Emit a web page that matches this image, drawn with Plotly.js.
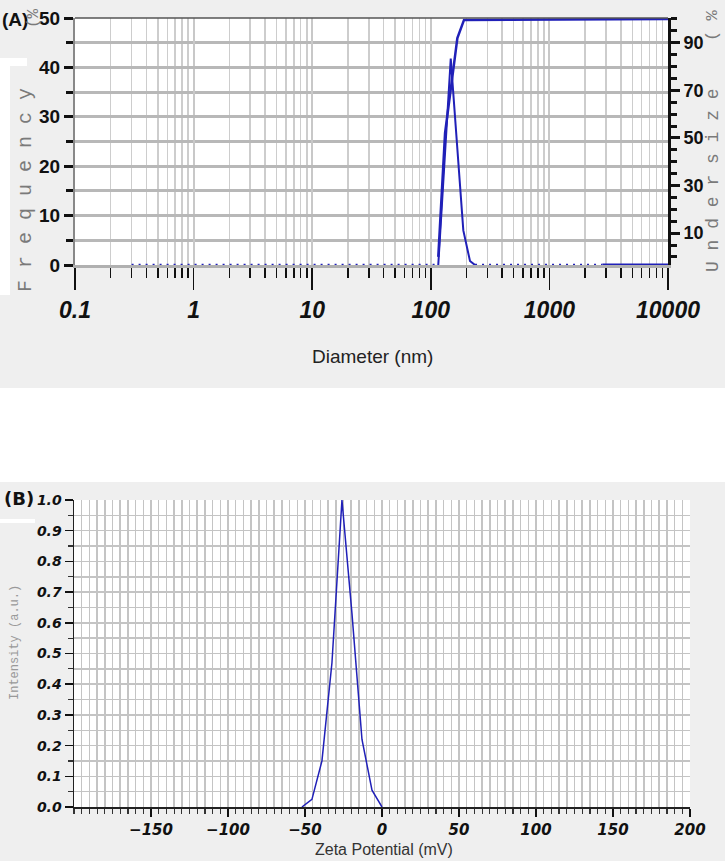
<!DOCTYPE html>
<html>
<head>
<meta charset="utf-8">
<script src="https://cdn.plot.ly/plotly-3.0.1.min.js"></script>
<style>
  html, body { margin: 0; padding: 0; background: #fff; }
  #chart { width: 725px; height: 861px; }
</style>
</head>
<body>
<div id="chart"></div>
<script>
// panel A: particle size distribution
const freqDiam = [115.6, 147.3, 188, 214, 236];
const freqPct = [0, 41.8, 7, 0.8, 0];
const freqZeroLowDiam = [0.3, 115.6];
const freqZeroHighDiam = [236, 2800];
const freqTailDiam = [2800, 10000];
const zeroPair = [0, 0];
const underDiam = [115.6, 131.9, 167.5, 190.6, 10000];
const underPct = [0, 52, 92, 99.6, 100];
const diamTicks = [0.1, 1, 10, 100, 1000, 10000];
const diamTickText = ['0.1', '1', '10', '100', '1000', '10000'];

// panel B: zeta potential
const zeta = [-52, -45.5, -39, -32.5, -26, -19.5, -13, -6.5, 0];
const intensity = [0, 0.025, 0.15, 0.47, 1.0, 0.63, 0.22, 0.055, 0];
const zetaTicks = [-150, -100, -50, 0, 50, 100, 150, 200];

const W = 725, H = 861;
const px = x => x / W;
const py = y => 1 - y / H;

const SANS = '"Liberation Sans", Arial, sans-serif';
const MONO = '"Liberation Mono", "Courier New", monospace';
const WIDE = '"DejaVu Sans", Verdana, sans-serif';
const BLUE = '#2020b8';

// minor log ticks 2..9 in every decade
let logMinor = [];
for (let e = -1; e < 4; e++) {
    for (let k = 2; k <= 9; k++) logMinor.push(k * Math.pow(10, e));
}

const traces = [
    { x: freqZeroLowDiam, y: zeroPair, xaxis: 'x', yaxis: 'y', mode: 'lines',
      line: { color: BLUE, width: 2.5, dash: '2px,5px' } },
    { x: freqDiam, y: freqPct, xaxis: 'x', yaxis: 'y', mode: 'lines',
      line: { color: BLUE, width: 2 } },
    { x: freqZeroHighDiam, y: zeroPair, xaxis: 'x', yaxis: 'y', mode: 'lines',
      line: { color: BLUE, width: 2.5, dash: '2px,5px' } },
    { x: freqTailDiam, y: zeroPair, xaxis: 'x', yaxis: 'y', mode: 'lines',
      line: { color: BLUE, width: 3 } },
    { x: underDiam, y: underPct, xaxis: 'x', yaxis: 'y2', mode: 'lines',
      line: { color: BLUE, width: 2.5 } },
    { x: zeta, y: intensity, xaxis: 'x2', yaxis: 'y3', mode: 'lines',
      line: { color: BLUE, width: 1.5 } }
];

function rect(x0, y0, x1, y1, color) {
    return { type: 'rect', xref: 'paper', yref: 'paper', layer: 'below',
        x0: px(x0), x1: px(x1), y0: py(y1), y1: py(y0),
        fillcolor: color, line: { width: 0 } };
}

function note(text, x, y, font, angle) {
    return { text: text, xref: 'paper', yref: 'paper', x: px(x), y: py(y),
        xanchor: 'center', yanchor: 'middle', showarrow: false,
        textangle: angle || 0, font: font };
}

const layout = {
    width: W,
    height: H,
    margin: { l: 0, r: 0, t: 0, b: 0 },
    paper_bgcolor: '#ffffff',
    plot_bgcolor: 'rgba(0,0,0,0)',
    showlegend: false,
    xaxis: {
        type: 'log', domain: [px(75), px(668)], range: [-1, 4], anchor: 'y',
        tickmode: 'array', tickvals: diamTicks, ticktext: diamTickText,
        ticks: 'outside', ticklen: 22, tickwidth: 1.5, tickcolor: '#111',
        tickfont: { family: SANS, size: 23, weight: 'bold', style: 'italic', color: '#111' },
        showgrid: true, gridcolor: '#c8c8c8', gridwidth: 2,
        minor: { tickvals: logMinor, ticks: 'outside', ticklen: 10, tickwidth: 1.5, tickcolor: '#111',
            showgrid: true, gridcolor: '#cdcdcd', gridwidth: 1.5 },
        showline: true, linecolor: '#b0b0b0', linewidth: 3,
        zeroline: false, fixedrange: true
    },
    yaxis: {
        domain: [py(265), py(18)], range: [0, 50], anchor: 'x',
        tickmode: 'array', tickvals: [0, 10, 20, 30, 40, 50],
        ticks: 'outside', ticklen: 9, tickwidth: 3, tickcolor: '#111',
        tickfont: { family: SANS, size: 19, weight: 'bold', color: '#111' },
        showgrid: true, gridcolor: '#b8b8b8', gridwidth: 3,
        minor: { dtick: 5, ticks: 'outside', ticklen: 7, tickwidth: 3, tickcolor: '#111',
            showgrid: true, gridcolor: '#b8b8b8', gridwidth: 3 },
        showline: true, linecolor: '#888', linewidth: 2,
        zeroline: false, fixedrange: true
    },
    yaxis2: {
        overlaying: 'y', side: 'right', anchor: 'x', range: [-3.4, 100.4],
        tickmode: 'array', tickvals: [10, 30, 50, 70, 90],
        ticks: 'outside', ticklen: 9, tickwidth: 3, tickcolor: '#111',
        tickfont: { family: SANS, size: 18, weight: 'bold', color: '#111' },
        showgrid: false,
        minor: { dtick: 5, tick0: 0, ticks: 'outside', ticklen: 6, tickwidth: 3, tickcolor: '#111', showgrid: false },
        showline: true, linecolor: '#111', linewidth: 3,
        zeroline: false, fixedrange: true
    },
    xaxis2: {
        domain: [px(74), px(690)], range: [-200, 200], anchor: 'y3',
        tickmode: 'array', tickvals: zetaTicks,
        ticks: 'outside', ticklen: 8, tickwidth: 1.5, tickcolor: '#111',
        tickfont: { family: WIDE, size: 15, weight: 'bold', style: 'italic', color: '#111' },
        showgrid: true, gridcolor: '#c4c4c4', gridwidth: 1.5,
        minor: { dtick: 5, tick0: 0, ticks: 'outside', ticklen: 5, tickwidth: 1.2, tickcolor: '#333',
            showgrid: true, gridcolor: '#c4c4c4', gridwidth: 1.5 },
        showline: true, linecolor: '#222', linewidth: 1.5,
        zeroline: false, fixedrange: true
    },
    yaxis3: {
        domain: [py(807), py(500)], range: [0, 1], anchor: 'x2',
        dtick: 0.1, tickformat: '.1f',
        ticks: 'outside', ticklen: 8, tickwidth: 1.5, tickcolor: '#111',
        tickfont: { family: WIDE, size: 14, weight: 'bold', style: 'italic', color: '#111' },
        showgrid: true, gridcolor: '#c4c4c4', gridwidth: 1.5,
        minor: { dtick: 0.05, ticks: 'outside', ticklen: 5, tickwidth: 1.2, tickcolor: '#333',
            showgrid: true, gridcolor: '#c4c4c4', gridwidth: 1.5 },
        showline: true, linecolor: '#222', linewidth: 1.5,
        zeroline: false, fixedrange: true
    },
    shapes: [
        rect(0, 0, 725, 388, '#efefef'),
        rect(0, 482, 725, 861, '#efefef'),
        rect(0, 60, 10, 295, '#ffffff'),
        rect(0, 58, 27, 66, '#ffffff'),
        rect(0, 519, 35, 523, '#ffffff'),
        rect(75, 18, 668, 265, '#ffffff'),
        rect(74, 500, 690, 807, '#ffffff'),
        { type: 'line', xref: 'paper', yref: 'paper', layer: 'above',
          x0: px(75), x1: px(668), y0: py(18), y1: py(18),
          line: { color: '#555', width: 1.5 } }
    ],
    annotations: [
        note('(A)', 15, 19, { family: SANS, size: 19, weight: 'bold', color: '#111' }),
        note('F r e q u e n c y', 26, 190, { family: MONO, size: 20, color: '#7a7a7a' }, -90),
        note('(%', 34, 18, { family: MONO, size: 16, color: '#7a7a7a' }, -90),
        note('U n d e r s i z e', 713, 180, { family: MONO, size: 18, color: '#7a7a7a' }, -90),
        note('( %', 713, 26, { family: MONO, size: 17, color: '#7a7a7a' }, -90),
        note('Diameter (nm)', 372, 357, { family: SANS, size: 19, color: '#222' }),
        note('(B)', 19, 498, { family: WIDE, size: 18, weight: 'bold', color: '#111' }),
        note('Intensity (a.u.)', 15, 643, { family: MONO, size: 12, color: '#999' }, -90),
        note('Zeta Potential (mV)', 384, 849, { family: SANS, size: 16, color: '#333' })
    ]
};

Plotly.newPlot('chart', traces, layout, { staticPlot: true, displayModeBar: false });
</script>
</body>
</html>
